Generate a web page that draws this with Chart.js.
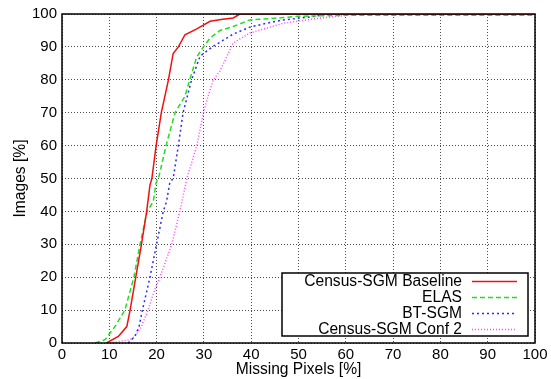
<!DOCTYPE html>
<html>
<head>
<meta charset="utf-8">
<script src="https://cdn.jsdelivr.net/npm/chart.js@4/dist/chart.umd.min.js"></script>
<style>
  html, body { margin: 0; padding: 0; background: #fff; }
</style>
</head>
<body>
<canvas id="c" width="551" height="379"></canvas>
<script>
// cumulative curves: share of images [%] vs missing pixels [%]
const tickValues = [0, 10, 20, 30, 40, 50, 60, 70, 80, 90, 100];

const baselineX = [9.4, 11.9, 13.7, 14.4, 15.6, 16.8, 17.9, 18.6, 19.0, 19.9, 21.0, 22.5, 23.5, 24.6, 26.0, 28.5, 31.3, 34.0, 36.2, 37.6, 100];
const baselineY = [0, 2, 5, 10, 20, 30, 40, 48, 50, 60, 70, 80, 88, 90, 93.7, 95.5, 97.8, 98.4, 98.8, 100, 100];

const elasX = [7.0, 9.1, 11.2, 13.3, 15.2, 16.5, 18.0, 19.3, 19.9, 20.4, 22.0, 23.9, 26.0, 27.0, 28.5, 29.9, 31.3, 33.4, 36.2, 39.7, 46.8, 50, 60, 100];
const elasY = [0, 1, 5, 10, 20, 30, 40, 43, 48.8, 50, 60, 70, 75, 80, 87, 90, 92.7, 95, 96.2, 98.2, 98.9, 99.3, 99.6, 99.6];

const btX = [14.0, 15.4, 16.3, 17.0, 18.6, 20.0, 21.4, 22.1, 22.8, 23.5, 24.6, 25.6, 27.4, 29.2, 32.0, 36.2, 39.7, 43.3, 46.8, 53.1, 56, 100];
const btY = [0, 2, 5, 10, 20, 30, 40, 43, 48.8, 50, 60, 70, 80, 87.2, 90.2, 93.9, 96, 97.2, 98.2, 99.2, 100, 100];

const conf2X = [10.1, 14.4, 15.4, 16.8, 18.2, 19.3, 20.7, 23.2, 24.9, 26.4, 28.5, 29.9, 30.9, 32.0, 33.4, 34.5, 36.2, 39.7, 46.8, 53.8, 59.4, 62, 100];
const conf2Y = [0, 1, 2, 5, 10, 15, 20, 30, 40, 50, 60, 70, 75, 80, 82.7, 86, 91.2, 94.2, 97.2, 98.6, 99.5, 100, 100];

const seriesNames = ["Census-SGM Baseline", "ELAS", "BT-SGM", "Census-SGM Conf 2"];
const seriesColors = ["#f01010", "#22dd22", "#2a2aff", "#ff44ff"];
const seriesDash = [[], [5, 3], [2, 3], [1, 2]];

const toPoints = (xs, ys) => xs.map((x, i) => ({ x: x, y: ys[i] }));
const allPoints = [
  toPoints(baselineX, baselineY),
  toPoints(elasX, elasY),
  toPoints(btX, btY),
  toPoints(conf2X, conf2Y),
];

const fontFamily = "'Liberation Sans', Arial, sans-serif";
Chart.defaults.font.family = fontFamily;
Chart.defaults.font.size = 15;
Chart.defaults.color = "#000";

// black frame round the plot area
const frame = {
  id: "frame",
  afterDatasetsDraw(chart) {
    const { ctx, chartArea } = chart;
    ctx.save();
    ctx.strokeStyle = "#000";
    ctx.lineWidth = 1.5;
    ctx.strokeRect(chartArea.left, chartArea.top, chartArea.right - chartArea.left, chartArea.bottom - chartArea.top);
    ctx.restore();
  },
};

// gnuplot style key, bottom right
const keyBox = {
  id: "keyBox",
  afterDraw(chart) {
    const { ctx, chartArea } = chart;
    const right = chartArea.right - 7;
    const bottom = chartArea.bottom - 7;
    const left = right - 246;
    const top = bottom - 63;
    ctx.save();
    ctx.fillStyle = "#fff";
    ctx.fillRect(left, top, right - left, bottom - top);
    ctx.strokeStyle = "#000";
    ctx.lineWidth = 1.5;
    ctx.strokeRect(left, top, right - left, bottom - top);
    ctx.font = "15.6px " + fontFamily;
    ctx.textAlign = "right";
    ctx.textBaseline = "middle";
    chart.data.datasets.forEach((ds, i) => {
      const y = top + 8.5 + i * 16;
      ctx.fillStyle = "#000";
      ctx.fillText(ds.label, right - 66, y);
      ctx.strokeStyle = ds.borderColor;
      ctx.lineWidth = ds.borderWidth;
      ctx.setLineDash(ds.borderDash);
      ctx.beginPath();
      ctx.moveTo(right - 56, y);
      ctx.lineTo(right - 11, y);
      ctx.stroke();
      ctx.setLineDash([]);
    });
    ctx.restore();
  },
};

const gridStyle = {
  color: "rgba(0,0,0,0.7)",
  lineWidth: 1,
  drawTicks: false,
  borderDash: [1, 2],
};
const borderStyle = { display: false, dash: [1, 2] };

new Chart(document.getElementById("c"), {
  type: "line",
  data: {
    datasets: seriesNames.map((name, i) => ({
      label: name,
      data: allPoints[i],
      borderColor: seriesColors[i],
      borderDash: seriesDash[i],
      borderWidth: 1.5,
      pointRadius: 0,
      tension: 0,
      fill: false,
    })),
  },
  options: {
    responsive: false,
    animation: false,
    layout: { padding: { top: 9, right: 16, left: 0, bottom: 0 } },
    plugins: {
      legend: { display: false },
      tooltip: { enabled: false },
    },
    scales: {
      x: {
        type: "linear",
        min: 0,
        max: 100,
        afterBuildTicks: (s) => { s.ticks = tickValues.map((v) => ({ value: v })); },
        afterFit: (s) => { s.height = 36; },
        ticks: { padding: 3, maxRotation: 0 },
        grid: gridStyle,
        border: borderStyle,
        title: { display: true, text: "Missing Pixels [%]", font: { size: 15.6 }, padding: { top: 0, bottom: 0 } },
      },
      y: {
        type: "linear",
        min: 0,
        max: 100,
        afterBuildTicks: (s) => { s.ticks = tickValues.map((v) => ({ value: v })); },
        afterFit: (s) => { s.width = 62; },
        ticks: { padding: 5 },
        grid: gridStyle,
        border: borderStyle,
        title: { display: true, text: "Images [%]", font: { size: 15.6 }, padding: { top: 11, bottom: 0 } },
      },
    },
  },
  plugins: [frame, keyBox],
});
</script>
</body>
</html>
